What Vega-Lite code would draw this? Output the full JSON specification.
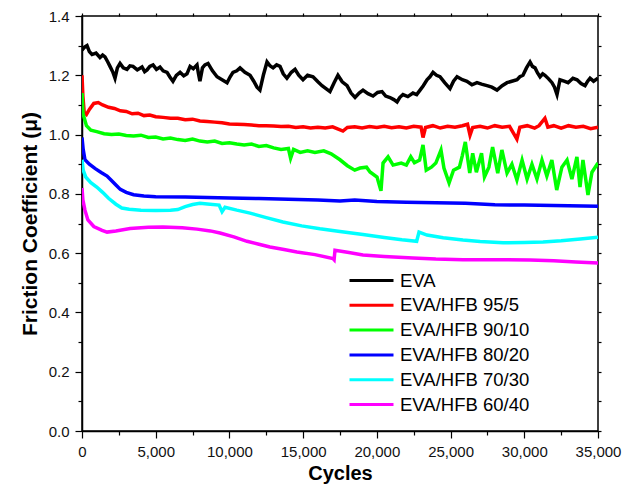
{
  "$schema": "https://vega.github.io/schema/vega-lite/v6.json",
  "width": 516,
  "height": 415,
  "autosize": {"type": "none"},
  "padding": {"left": 82, "top": 16, "right": 25, "bottom": 55},
  "config": {
    "view": {"stroke": "black", "strokeWidth": 1.5},
    "font": "Liberation Sans",
    "axis": {"grid": false, "domainColor": "black", "domainWidth": 1.5, "tickColor": "black", "tickWidth": 1.2, "labelColor": "#111", "titleColor": "black", "labelFont": "Liberation Sans", "titleFont": "Liberation Sans"}
  },
  "data": {"values": [
    {"s":"EVA","c":0,"f":1.285},{"s":"EVA","c":170,"f":1.295},{"s":"EVA","c":340,"f":1.30},{"s":"EVA","c":500,"f":1.28},{"s":"EVA","c":680,"f":1.27},{"s":"EVA","c":950,"f":1.275},{"s":"EVA","c":1220,"f":1.26},{"s":"EVA","c":1400,"f":1.268},{"s":"EVA","c":1560,"f":1.262},{"s":"EVA","c":1750,"f":1.245},{"s":"EVA","c":1900,"f":1.23},{"s":"EVA","c":2100,"f":1.21},{"s":"EVA","c":2240,"f":1.19},{"s":"EVA","c":2400,"f":1.225},{"s":"EVA","c":2580,"f":1.24},{"s":"EVA","c":2800,"f":1.225},{"s":"EVA","c":3050,"f":1.22},{"s":"EVA","c":3250,"f":1.232},{"s":"EVA","c":3460,"f":1.23},{"s":"EVA","c":3750,"f":1.218},{"s":"EVA","c":4070,"f":1.228},{"s":"EVA","c":4250,"f":1.212},{"s":"EVA","c":4410,"f":1.218},{"s":"EVA","c":4600,"f":1.23},{"s":"EVA","c":4820,"f":1.235},{"s":"EVA","c":5050,"f":1.22},{"s":"EVA","c":5290,"f":1.228},{"s":"EVA","c":5500,"f":1.215},{"s":"EVA","c":5770,"f":1.21},{"s":"EVA","c":5950,"f":1.195},{"s":"EVA","c":6170,"f":1.18},{"s":"EVA","c":6400,"f":1.2},{"s":"EVA","c":6650,"f":1.21},{"s":"EVA","c":6900,"f":1.198},{"s":"EVA","c":7120,"f":1.205},{"s":"EVA","c":7330,"f":1.23},{"s":"EVA","c":7550,"f":1.222},{"s":"EVA","c":7800,"f":1.235},{"s":"EVA","c":7900,"f":1.205},{"s":"EVA","c":8000,"f":1.18},{"s":"EVA","c":8170,"f":1.225},{"s":"EVA","c":8340,"f":1.235},{"s":"EVA","c":8550,"f":1.24},{"s":"EVA","c":8850,"f":1.215},{"s":"EVA","c":9160,"f":1.195},{"s":"EVA","c":9500,"f":1.185},{"s":"EVA","c":9840,"f":1.175},{"s":"EVA","c":10050,"f":1.195},{"s":"EVA","c":10240,"f":1.21},{"s":"EVA","c":10500,"f":1.215},{"s":"EVA","c":10720,"f":1.225},{"s":"EVA","c":11050,"f":1.21},{"s":"EVA","c":11400,"f":1.20},{"s":"EVA","c":11650,"f":1.18},{"s":"EVA","c":11870,"f":1.16},{"s":"EVA","c":12070,"f":1.15},{"s":"EVA","c":12300,"f":1.2},{"s":"EVA","c":12550,"f":1.245},{"s":"EVA","c":12750,"f":1.232},{"s":"EVA","c":12960,"f":1.225},{"s":"EVA","c":13200,"f":1.235},{"s":"EVA","c":13430,"f":1.23},{"s":"EVA","c":13650,"f":1.205},{"s":"EVA","c":13900,"f":1.19},{"s":"EVA","c":14200,"f":1.21},{"s":"EVA","c":14450,"f":1.22},{"s":"EVA","c":14700,"f":1.2},{"s":"EVA","c":14990,"f":1.185},{"s":"EVA","c":15300,"f":1.2},{"s":"EVA","c":15670,"f":1.195},{"s":"EVA","c":16000,"f":1.178},{"s":"EVA","c":16280,"f":1.165},{"s":"EVA","c":16550,"f":1.155},{"s":"EVA","c":16820,"f":1.145},{"s":"EVA","c":17100,"f":1.175},{"s":"EVA","c":17360,"f":1.20},{"s":"EVA","c":17650,"f":1.178},{"s":"EVA","c":17980,"f":1.165},{"s":"EVA","c":18250,"f":1.14},{"s":"EVA","c":18520,"f":1.125},{"s":"EVA","c":18800,"f":1.14},{"s":"EVA","c":19060,"f":1.15},{"s":"EVA","c":19400,"f":1.138},{"s":"EVA","c":19740,"f":1.13},{"s":"EVA","c":20050,"f":1.142},{"s":"EVA","c":20350,"f":1.145},{"s":"EVA","c":20600,"f":1.13},{"s":"EVA","c":20890,"f":1.125},{"s":"EVA","c":21150,"f":1.118},{"s":"EVA","c":21370,"f":1.11},{"s":"EVA","c":21550,"f":1.125},{"s":"EVA","c":21770,"f":1.135},{"s":"EVA","c":22100,"f":1.128},{"s":"EVA","c":22450,"f":1.14},{"s":"EVA","c":22700,"f":1.135},{"s":"EVA","c":22930,"f":1.15},{"s":"EVA","c":23150,"f":1.165},{"s":"EVA","c":23400,"f":1.185},{"s":"EVA","c":23600,"f":1.195},{"s":"EVA","c":23810,"f":1.21},{"s":"EVA","c":24050,"f":1.2},{"s":"EVA","c":24280,"f":1.195},{"s":"EVA","c":24600,"f":1.175},{"s":"EVA","c":24960,"f":1.155},{"s":"EVA","c":25200,"f":1.18},{"s":"EVA","c":25440,"f":1.195},{"s":"EVA","c":25800,"f":1.185},{"s":"EVA","c":26110,"f":1.18},{"s":"EVA","c":26450,"f":1.168},{"s":"EVA","c":26790,"f":1.175},{"s":"EVA","c":27100,"f":1.17},{"s":"EVA","c":27470,"f":1.165},{"s":"EVA","c":27800,"f":1.16},{"s":"EVA","c":28150,"f":1.15},{"s":"EVA","c":28500,"f":1.165},{"s":"EVA","c":28830,"f":1.175},{"s":"EVA","c":29150,"f":1.18},{"s":"EVA","c":29510,"f":1.185},{"s":"EVA","c":29700,"f":1.195},{"s":"EVA","c":29910,"f":1.20},{"s":"EVA","c":30150,"f":1.225},{"s":"EVA","c":30390,"f":1.245},{"s":"EVA","c":30550,"f":1.23},{"s":"EVA","c":30730,"f":1.225},{"s":"EVA","c":30900,"f":1.208},{"s":"EVA","c":31070,"f":1.195},{"s":"EVA","c":31250,"f":1.205},{"s":"EVA","c":31400,"f":1.20},{"s":"EVA","c":31650,"f":1.188},{"s":"EVA","c":31880,"f":1.175},{"s":"EVA","c":32050,"f":1.16},{"s":"EVA","c":32220,"f":1.135},{"s":"EVA","c":32420,"f":1.185},{"s":"EVA","c":32700,"f":1.18},{"s":"EVA","c":32970,"f":1.175},{"s":"EVA","c":33300,"f":1.19},{"s":"EVA","c":33580,"f":1.185},{"s":"EVA","c":33850,"f":1.172},{"s":"EVA","c":34120,"f":1.165},{"s":"EVA","c":34300,"f":1.18},{"s":"EVA","c":34460,"f":1.19},{"s":"EVA","c":34700,"f":1.18},{"s":"EVA","c":35000,"f":1.19},

    {"s":"EVA/HFB 95/5","c":0,"f":1.20},{"s":"EVA/HFB 95/5","c":60,"f":1.13},{"s":"EVA/HFB 95/5","c":150,"f":1.075},{"s":"EVA/HFB 95/5","c":300,"f":1.068},{"s":"EVA/HFB 95/5","c":500,"f":1.085},{"s":"EVA/HFB 95/5","c":800,"f":1.105},{"s":"EVA/HFB 95/5","c":1100,"f":1.108},{"s":"EVA/HFB 95/5","c":1400,"f":1.10},{"s":"EVA/HFB 95/5","c":1800,"f":1.092},{"s":"EVA/HFB 95/5","c":2200,"f":1.088},{"s":"EVA/HFB 95/5","c":2600,"f":1.08},{"s":"EVA/HFB 95/5","c":3000,"f":1.078},{"s":"EVA/HFB 95/5","c":3400,"f":1.07},{"s":"EVA/HFB 95/5","c":3800,"f":1.072},{"s":"EVA/HFB 95/5","c":4200,"f":1.064},{"s":"EVA/HFB 95/5","c":4600,"f":1.066},{"s":"EVA/HFB 95/5","c":5000,"f":1.06},{"s":"EVA/HFB 95/5","c":5500,"f":1.058},{"s":"EVA/HFB 95/5","c":6000,"f":1.055},{"s":"EVA/HFB 95/5","c":6500,"f":1.055},{"s":"EVA/HFB 95/5","c":7000,"f":1.05},{"s":"EVA/HFB 95/5","c":7500,"f":1.052},{"s":"EVA/HFB 95/5","c":8000,"f":1.046},{"s":"EVA/HFB 95/5","c":8500,"f":1.044},{"s":"EVA/HFB 95/5","c":9000,"f":1.042},{"s":"EVA/HFB 95/5","c":9500,"f":1.04},{"s":"EVA/HFB 95/5","c":10000,"f":1.036},{"s":"EVA/HFB 95/5","c":10500,"f":1.035},{"s":"EVA/HFB 95/5","c":11000,"f":1.034},{"s":"EVA/HFB 95/5","c":11500,"f":1.032},{"s":"EVA/HFB 95/5","c":12000,"f":1.03},{"s":"EVA/HFB 95/5","c":12500,"f":1.03},{"s":"EVA/HFB 95/5","c":13000,"f":1.029},{"s":"EVA/HFB 95/5","c":13500,"f":1.027},{"s":"EVA/HFB 95/5","c":14000,"f":1.028},{"s":"EVA/HFB 95/5","c":14500,"f":1.024},{"s":"EVA/HFB 95/5","c":15000,"f":1.026},{"s":"EVA/HFB 95/5","c":15500,"f":1.022},{"s":"EVA/HFB 95/5","c":16000,"f":1.025},{"s":"EVA/HFB 95/5","c":16500,"f":1.022},{"s":"EVA/HFB 95/5","c":17000,"f":1.026},{"s":"EVA/HFB 95/5","c":17700,"f":1.012},{"s":"EVA/HFB 95/5","c":18000,"f":1.024},{"s":"EVA/HFB 95/5","c":18500,"f":1.026},{"s":"EVA/HFB 95/5","c":19000,"f":1.022},{"s":"EVA/HFB 95/5","c":19500,"f":1.027},{"s":"EVA/HFB 95/5","c":20000,"f":1.024},{"s":"EVA/HFB 95/5","c":20500,"f":1.028},{"s":"EVA/HFB 95/5","c":21000,"f":1.023},{"s":"EVA/HFB 95/5","c":21500,"f":1.026},{"s":"EVA/HFB 95/5","c":22000,"f":1.022},{"s":"EVA/HFB 95/5","c":22500,"f":1.028},{"s":"EVA/HFB 95/5","c":23000,"f":1.025},{"s":"EVA/HFB 95/5","c":23130,"f":0.99},{"s":"EVA/HFB 95/5","c":23300,"f":1.024},{"s":"EVA/HFB 95/5","c":23800,"f":1.03},{"s":"EVA/HFB 95/5","c":24300,"f":1.022},{"s":"EVA/HFB 95/5","c":24800,"f":1.028},{"s":"EVA/HFB 95/5","c":25300,"f":1.025},{"s":"EVA/HFB 95/5","c":25800,"f":1.03},{"s":"EVA/HFB 95/5","c":26150,"f":1.035},{"s":"EVA/HFB 95/5","c":26320,"f":0.998},{"s":"EVA/HFB 95/5","c":26500,"f":1.024},{"s":"EVA/HFB 95/5","c":27000,"f":1.028},{"s":"EVA/HFB 95/5","c":27500,"f":1.022},{"s":"EVA/HFB 95/5","c":28000,"f":1.03},{"s":"EVA/HFB 95/5","c":28500,"f":1.025},{"s":"EVA/HFB 95/5","c":29000,"f":1.028},{"s":"EVA/HFB 95/5","c":29500,"f":0.985},{"s":"EVA/HFB 95/5","c":29700,"f":1.025},{"s":"EVA/HFB 95/5","c":30200,"f":1.03},{"s":"EVA/HFB 95/5","c":30700,"f":1.022},{"s":"EVA/HFB 95/5","c":31000,"f":1.03},{"s":"EVA/HFB 95/5","c":31400,"f":1.055},{"s":"EVA/HFB 95/5","c":31600,"f":1.025},{"s":"EVA/HFB 95/5","c":32000,"f":1.03},{"s":"EVA/HFB 95/5","c":32500,"f":1.022},{"s":"EVA/HFB 95/5","c":33000,"f":1.03},{"s":"EVA/HFB 95/5","c":33500,"f":1.025},{"s":"EVA/HFB 95/5","c":34000,"f":1.028},{"s":"EVA/HFB 95/5","c":34500,"f":1.02},{"s":"EVA/HFB 95/5","c":35000,"f":1.025},

    {"s":"EVA/HFB 90/10","c":0,"f":1.14},{"s":"EVA/HFB 90/10","c":70,"f":1.07},{"s":"EVA/HFB 90/10","c":300,"f":1.03},{"s":"EVA/HFB 90/10","c":600,"f":1.015},{"s":"EVA/HFB 90/10","c":1000,"f":1.01},{"s":"EVA/HFB 90/10","c":1500,"f":1.003},{"s":"EVA/HFB 90/10","c":2000,"f":1.0},{"s":"EVA/HFB 90/10","c":2500,"f":1.002},{"s":"EVA/HFB 90/10","c":3000,"f":0.997},{"s":"EVA/HFB 90/10","c":3500,"f":0.995},{"s":"EVA/HFB 90/10","c":4000,"f":0.998},{"s":"EVA/HFB 90/10","c":4500,"f":0.99},{"s":"EVA/HFB 90/10","c":5000,"f":0.992},{"s":"EVA/HFB 90/10","c":5500,"f":0.985},{"s":"EVA/HFB 90/10","c":6000,"f":0.988},{"s":"EVA/HFB 90/10","c":6500,"f":0.983},{"s":"EVA/HFB 90/10","c":7000,"f":0.98},{"s":"EVA/HFB 90/10","c":7500,"f":0.985},{"s":"EVA/HFB 90/10","c":8000,"f":0.978},{"s":"EVA/HFB 90/10","c":8500,"f":0.975},{"s":"EVA/HFB 90/10","c":9000,"f":0.978},{"s":"EVA/HFB 90/10","c":9500,"f":0.97},{"s":"EVA/HFB 90/10","c":10000,"f":0.972},{"s":"EVA/HFB 90/10","c":10500,"f":0.968},{"s":"EVA/HFB 90/10","c":11000,"f":0.965},{"s":"EVA/HFB 90/10","c":11500,"f":0.968},{"s":"EVA/HFB 90/10","c":12000,"f":0.96},{"s":"EVA/HFB 90/10","c":12500,"f":0.963},{"s":"EVA/HFB 90/10","c":13000,"f":0.955},{"s":"EVA/HFB 90/10","c":13500,"f":0.95},{"s":"EVA/HFB 90/10","c":14000,"f":0.953},{"s":"EVA/HFB 90/10","c":14150,"f":0.92},{"s":"EVA/HFB 90/10","c":14350,"f":0.95},{"s":"EVA/HFB 90/10","c":14800,"f":0.94},{"s":"EVA/HFB 90/10","c":15300,"f":0.945},{"s":"EVA/HFB 90/10","c":15800,"f":0.94},{"s":"EVA/HFB 90/10","c":16400,"f":0.945},{"s":"EVA/HFB 90/10","c":16900,"f":0.935},{"s":"EVA/HFB 90/10","c":17500,"f":0.915},{"s":"EVA/HFB 90/10","c":18000,"f":0.895},{"s":"EVA/HFB 90/10","c":18500,"f":0.88},{"s":"EVA/HFB 90/10","c":18860,"f":0.887},{"s":"EVA/HFB 90/10","c":19300,"f":0.89},{"s":"EVA/HFB 90/10","c":19535,"f":0.874},{"s":"EVA/HFB 90/10","c":20010,"f":0.857},{"s":"EVA/HFB 90/10","c":20280,"f":0.81},{"s":"EVA/HFB 90/10","c":20420,"f":0.904},{"s":"EVA/HFB 90/10","c":20760,"f":0.925},{"s":"EVA/HFB 90/10","c":21100,"f":0.897},{"s":"EVA/HFB 90/10","c":21650,"f":0.904},{"s":"EVA/HFB 90/10","c":22000,"f":0.897},{"s":"EVA/HFB 90/10","c":22300,"f":0.925},{"s":"EVA/HFB 90/10","c":22550,"f":0.905},{"s":"EVA/HFB 90/10","c":22900,"f":0.914},{"s":"EVA/HFB 90/10","c":23130,"f":0.965},{"s":"EVA/HFB 90/10","c":23350,"f":0.88},{"s":"EVA/HFB 90/10","c":23700,"f":0.89},{"s":"EVA/HFB 90/10","c":24000,"f":0.904},{"s":"EVA/HFB 90/10","c":24350,"f":0.948},{"s":"EVA/HFB 90/10","c":24550,"f":0.887},{"s":"EVA/HFB 90/10","c":24900,"f":0.837},{"s":"EVA/HFB 90/10","c":25200,"f":0.88},{"s":"EVA/HFB 90/10","c":25600,"f":0.89},{"s":"EVA/HFB 90/10","c":25800,"f":0.93},{"s":"EVA/HFB 90/10","c":26000,"f":0.975},{"s":"EVA/HFB 90/10","c":26300,"f":0.87},{"s":"EVA/HFB 90/10","c":26500,"f":0.937},{"s":"EVA/HFB 90/10","c":26750,"f":0.873},{"s":"EVA/HFB 90/10","c":27100,"f":0.937},{"s":"EVA/HFB 90/10","c":27300,"f":0.857},{"s":"EVA/HFB 90/10","c":27600,"f":0.89},{"s":"EVA/HFB 90/10","c":27850,"f":0.958},{"s":"EVA/HFB 90/10","c":28200,"f":0.87},{"s":"EVA/HFB 90/10","c":28480,"f":0.948},{"s":"EVA/HFB 90/10","c":28830,"f":0.87},{"s":"EVA/HFB 90/10","c":29160,"f":0.9},{"s":"EVA/HFB 90/10","c":29500,"f":0.847},{"s":"EVA/HFB 90/10","c":29850,"f":0.914},{"s":"EVA/HFB 90/10","c":30190,"f":0.85},{"s":"EVA/HFB 90/10","c":30520,"f":0.9},{"s":"EVA/HFB 90/10","c":30860,"f":0.85},{"s":"EVA/HFB 90/10","c":31200,"f":0.914},{"s":"EVA/HFB 90/10","c":31530,"f":0.86},{"s":"EVA/HFB 90/10","c":31870,"f":0.914},{"s":"EVA/HFB 90/10","c":32200,"f":0.813},{"s":"EVA/HFB 90/10","c":32550,"f":0.89},{"s":"EVA/HFB 90/10","c":32900,"f":0.914},{"s":"EVA/HFB 90/10","c":33230,"f":0.85},{"s":"EVA/HFB 90/10","c":33570,"f":0.925},{"s":"EVA/HFB 90/10","c":33780,"f":0.823},{"s":"EVA/HFB 90/10","c":33980,"f":0.914},{"s":"EVA/HFB 90/10","c":34320,"f":0.796},{"s":"EVA/HFB 90/10","c":34590,"f":0.873},{"s":"EVA/HFB 90/10","c":35000,"f":0.904},

    {"s":"EVA/HFB 80/20","c":0,"f":0.99},{"s":"EVA/HFB 80/20","c":80,"f":0.95},{"s":"EVA/HFB 80/20","c":200,"f":0.915},{"s":"EVA/HFB 80/20","c":500,"f":0.9},{"s":"EVA/HFB 80/20","c":900,"f":0.885},{"s":"EVA/HFB 80/20","c":1300,"f":0.872},{"s":"EVA/HFB 80/20","c":1700,"f":0.86},{"s":"EVA/HFB 80/20","c":2000,"f":0.845},{"s":"EVA/HFB 80/20","c":2300,"f":0.83},{"s":"EVA/HFB 80/20","c":2600,"f":0.815},{"s":"EVA/HFB 80/20","c":3000,"f":0.805},{"s":"EVA/HFB 80/20","c":3500,"f":0.797},{"s":"EVA/HFB 80/20","c":4200,"f":0.793},{"s":"EVA/HFB 80/20","c":5000,"f":0.79},{"s":"EVA/HFB 80/20","c":7000,"f":0.789},{"s":"EVA/HFB 80/20","c":8500,"f":0.788},{"s":"EVA/HFB 80/20","c":10000,"f":0.786},{"s":"EVA/HFB 80/20","c":12000,"f":0.784},{"s":"EVA/HFB 80/20","c":14000,"f":0.782},{"s":"EVA/HFB 80/20","c":16000,"f":0.779},{"s":"EVA/HFB 80/20","c":17500,"f":0.776},{"s":"EVA/HFB 80/20","c":18500,"f":0.779},{"s":"EVA/HFB 80/20","c":20000,"f":0.774},{"s":"EVA/HFB 80/20","c":22000,"f":0.772},{"s":"EVA/HFB 80/20","c":24000,"f":0.77},{"s":"EVA/HFB 80/20","c":26000,"f":0.768},{"s":"EVA/HFB 80/20","c":28000,"f":0.763},{"s":"EVA/HFB 80/20","c":30000,"f":0.762},{"s":"EVA/HFB 80/20","c":32000,"f":0.761},{"s":"EVA/HFB 80/20","c":34000,"f":0.759},{"s":"EVA/HFB 80/20","c":35000,"f":0.758},

    {"s":"EVA/HFB 70/30","c":0,"f":0.915},{"s":"EVA/HFB 70/30","c":80,"f":0.88},{"s":"EVA/HFB 70/30","c":250,"f":0.857},{"s":"EVA/HFB 70/30","c":600,"f":0.838},{"s":"EVA/HFB 70/30","c":1000,"f":0.823},{"s":"EVA/HFB 70/30","c":1400,"f":0.805},{"s":"EVA/HFB 70/30","c":1800,"f":0.785},{"s":"EVA/HFB 70/30","c":2300,"f":0.765},{"s":"EVA/HFB 70/30","c":2700,"f":0.752},{"s":"EVA/HFB 70/30","c":3200,"f":0.748},{"s":"EVA/HFB 70/30","c":4000,"f":0.745},{"s":"EVA/HFB 70/30","c":5000,"f":0.744},{"s":"EVA/HFB 70/30","c":6000,"f":0.745},{"s":"EVA/HFB 70/30","c":6500,"f":0.747},{"s":"EVA/HFB 70/30","c":7000,"f":0.757},{"s":"EVA/HFB 70/30","c":7500,"f":0.764},{"s":"EVA/HFB 70/30","c":8000,"f":0.768},{"s":"EVA/HFB 70/30","c":8500,"f":0.766},{"s":"EVA/HFB 70/30","c":9300,"f":0.762},{"s":"EVA/HFB 70/30","c":9500,"f":0.74},{"s":"EVA/HFB 70/30","c":9700,"f":0.755},{"s":"EVA/HFB 70/30","c":10500,"f":0.745},{"s":"EVA/HFB 70/30","c":11400,"f":0.735},{"s":"EVA/HFB 70/30","c":12500,"f":0.72},{"s":"EVA/HFB 70/30","c":13630,"f":0.705},{"s":"EVA/HFB 70/30","c":14900,"f":0.692},{"s":"EVA/HFB 70/30","c":16140,"f":0.682},{"s":"EVA/HFB 70/30","c":17500,"f":0.673},{"s":"EVA/HFB 70/30","c":19060,"f":0.663},{"s":"EVA/HFB 70/30","c":20500,"f":0.653},{"s":"EVA/HFB 70/30","c":21700,"f":0.645},{"s":"EVA/HFB 70/30","c":22700,"f":0.64},{"s":"EVA/HFB 70/30","c":22860,"f":0.671},{"s":"EVA/HFB 70/30","c":23400,"f":0.661},{"s":"EVA/HFB 70/30","c":24500,"f":0.652},{"s":"EVA/HFB 70/30","c":25840,"f":0.644},{"s":"EVA/HFB 70/30","c":27000,"f":0.639},{"s":"EVA/HFB 70/30","c":28560,"f":0.635},{"s":"EVA/HFB 70/30","c":30000,"f":0.636},{"s":"EVA/HFB 70/30","c":31270,"f":0.638},{"s":"EVA/HFB 70/30","c":32500,"f":0.642},{"s":"EVA/HFB 70/30","c":33800,"f":0.648},{"s":"EVA/HFB 70/30","c":35000,"f":0.654},

    {"s":"EVA/HFB 60/40","c":0,"f":0.82},{"s":"EVA/HFB 60/40","c":60,"f":0.78},{"s":"EVA/HFB 60/40","c":200,"f":0.745},{"s":"EVA/HFB 60/40","c":400,"f":0.712},{"s":"EVA/HFB 60/40","c":800,"f":0.69},{"s":"EVA/HFB 60/40","c":1360,"f":0.677},{"s":"EVA/HFB 60/40","c":1700,"f":0.671},{"s":"EVA/HFB 60/40","c":2300,"f":0.675},{"s":"EVA/HFB 60/40","c":3260,"f":0.683},{"s":"EVA/HFB 60/40","c":4500,"f":0.687},{"s":"EVA/HFB 60/40","c":5500,"f":0.688},{"s":"EVA/HFB 60/40","c":6800,"f":0.686},{"s":"EVA/HFB 60/40","c":7800,"f":0.681},{"s":"EVA/HFB 60/40","c":8700,"f":0.675},{"s":"EVA/HFB 60/40","c":9360,"f":0.668},{"s":"EVA/HFB 60/40","c":10300,"f":0.655},{"s":"EVA/HFB 60/40","c":11190,"f":0.64},{"s":"EVA/HFB 60/40","c":12000,"f":0.63},{"s":"EVA/HFB 60/40","c":12750,"f":0.621},{"s":"EVA/HFB 60/40","c":13700,"f":0.612},{"s":"EVA/HFB 60/40","c":14580,"f":0.604},{"s":"EVA/HFB 60/40","c":15800,"f":0.595},{"s":"EVA/HFB 60/40","c":17025,"f":0.582},{"s":"EVA/HFB 60/40","c":17100,"f":0.578},{"s":"EVA/HFB 60/40","c":17160,"f":0.61},{"s":"EVA/HFB 60/40","c":18000,"f":0.603},{"s":"EVA/HFB 60/40","c":19060,"f":0.594},{"s":"EVA/HFB 60/40","c":20500,"f":0.589},{"s":"EVA/HFB 60/40","c":22450,"f":0.584},{"s":"EVA/HFB 60/40","c":24000,"f":0.58},{"s":"EVA/HFB 60/40","c":25840,"f":0.578},{"s":"EVA/HFB 60/40","c":28000,"f":0.578},{"s":"EVA/HFB 60/40","c":30390,"f":0.577},{"s":"EVA/HFB 60/40","c":32000,"f":0.574},{"s":"EVA/HFB 60/40","c":33500,"f":0.57},{"s":"EVA/HFB 60/40","c":35000,"f":0.567}
  ]},
  "layer": [
    {
      "mark": {"type": "line", "strokeWidth": 3.5, "clip": true},
      "encoding": {
        "x": {"field": "c", "type": "quantitative",
          "scale": {"domain": [0, 35000], "nice": false, "zero": false},
          "axis": {"orient": "bottom", "title": "Cycles", "titleFontSize": 20, "titleFontWeight": "bold", "titlePadding": 4,
            "values": [0,2500,5000,7500,10000,12500,15000,17500,20000,22500,25000,27500,30000,32500,35000],
            "labelExpr": "datum.value % 5000 ? '' : format(datum.value, ',')",
            "labelFontSize": 15, "labelPadding": 6, "labelOverlap": false, "labelFlush": false,
            "tickSize": {"condition": {"test": "datum.value % 5000", "value": 4}, "value": 7}}},
        "y": {"field": "f", "type": "quantitative",
          "scale": {"domain": [0, 1.4], "nice": false, "zero": false},
          "axis": {"orient": "left", "title": "Friction Coefficient (μ)", "titleFontSize": 21, "titleFontWeight": "bold", "titlePadding": 8,
            "values": [0,0.1,0.2,0.3,0.4,0.5,0.6,0.7,0.8,0.9,1.0,1.1,1.2,1.3,1.4],
            "labelExpr": "round(datum.value*10) % 2 === 1 ? '' : format(datum.value, '.1f')",
            "labelFontSize": 15, "labelPadding": 6, "labelOverlap": false, "labelFlush": false,
            "tickSize": {"condition": {"test": "round(datum.value*10) % 2 === 1", "value": 4}, "value": 7}}},
        "color": {"field": "s", "type": "nominal",
          "scale": {"domain": ["EVA","EVA/HFB 95/5","EVA/HFB 90/10","EVA/HFB 80/20","EVA/HFB 70/30","EVA/HFB 60/40"],
                    "range": ["#000000","#ff0000","#00ff00","#0000ff","#00ffff","#ff00ff"]},
          "legend": {"title": null, "orient": "none", "legendX": 278, "legendY": 253, "padding": 0,
            "symbolType": "M-2.2,0H2.2", "symbolSize": 400, "symbolStrokeWidth": 3,
            "labelFontSize": 18.5, "labelColor": "black", "labelOffset": 17, "rowPadding": 3.8}}
      }
    },
    {
      "mark": {"type": "line", "opacity": 0},
      "encoding": {
        "x": {"field": "c", "type": "quantitative",
          "axis": {"orient": "top", "title": null, "labels": false, "domain": false, "tickSize": 3,
            "values": [0,2500,5000,7500,10000,12500,15000,17500,20000,22500,25000,27500,30000,32500,35000]}},
        "y": {"field": "f", "type": "quantitative",
          "axis": {"orient": "right", "title": null, "labels": false, "domain": false, "tickSize": 3,
            "values": [0,0.1,0.2,0.3,0.4,0.5,0.6,0.7,0.8,0.9,1.0,1.1,1.2,1.3,1.4]}},
        "detail": {"field": "s"}
      }
    }
  ],
  "resolve": {"axis": {"x": "independent", "y": "independent"}}
}
